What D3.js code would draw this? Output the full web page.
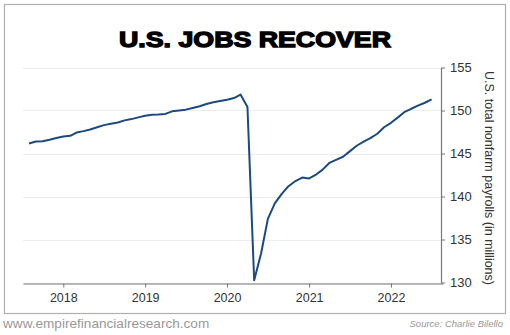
<!DOCTYPE html>
<html><head><meta charset="utf-8">
<script src="https://cdn.jsdelivr.net/npm/d3@7"></script>
<style>body{margin:0;background:#fff}svg{display:block}</style>
</head><body>
<script>
const title = "U.S. JOBS RECOVER";
const yLabel = "U.S. total nonfarm payrolls (in millions)";
const startMonth = "2017-07";
const payrolls = [146.16,146.4,146.43,146.6,146.8,146.98,147.05,147.44,147.6,147.8,148.05,148.3,
148.45,148.6,148.85,149.0,149.2,149.4,149.5,149.53,149.6,149.9,150.0,150.1,
150.3,150.5,150.75,150.95,151.1,151.25,151.45,151.85,150.42,130.27,133.4,137.4,
139.2,140.3,141.2,141.8,142.2,142.1,142.55,143.1,143.9,144.25,144.62,145.25,
145.9,146.38,146.78,147.3,148.05,148.57,149.2,149.8,150.2,150.56,150.9,151.3];
const yTicks = [130,135,140,145,150,155];
const xTicks = ["2018","2019","2020","2021","2022"];
const footerLeft = "www.empirefinancialresearch.com";
const footerRight = "Source: Charlie Bilello";

const W=510,H=335;
const svg=d3.select("body").append("svg").attr("width",W).attr("height",H);
svg.append("rect").attr("x",4.5).attr("y",4.5).attr("width",501).attr("height",309)
  .attr("fill","#fff").attr("stroke","#b0b0b0").attr("stroke-width",1.2);

const parse=d3.timeParse("%Y-%m");
const start=parse(startMonth);
// plotted at end of each month
const data=payrolls.map((v,i)=>({d:d3.timeMonth.offset(start,i+1),v}));

const x=d3.scaleTime().domain([new Date(2018,0,1),new Date(2022,0,1)]).range([63.3,391]);
x.domain([x.invert(23),x.invert(443)]).range([23,443]);
const y=d3.scaleLinear().domain([130,155]).range([282.5,67.5]);

// gridlines
svg.append("g").selectAll("line").data(yTicks).join("line")
  .attr("x1",23).attr("x2",441).attr("y1",d=>Math.round(y(d))+0.5).attr("y2",d=>Math.round(y(d))+0.5)
  .attr("stroke","#ececec").attr("stroke-width",1);

// x axis
const xa=svg.append("g").attr("transform","translate(0,283.5)")
  .call(d3.axisBottom(x).tickValues(xTicks.map(t=>new Date(+t,0,1))).tickFormat(d3.timeFormat("%Y")).tickSize(4).tickSizeOuter(0));
xa.select(".domain").attr("stroke","#777").attr("stroke-width",1.2);
xa.selectAll(".tick line").attr("stroke","#777");
xa.selectAll("text").attr("font-family","Liberation Sans, Arial, sans-serif").attr("font-size",12.5).attr("fill","#333").attr("dy","0.95em");

// y axis
const ya=svg.append("g").attr("transform","translate(441,0)")
  .call(d3.axisRight(y).tickValues(yTicks).tickSize(4).tickSizeOuter(0));
ya.select(".domain").attr("stroke","#777").attr("stroke-width",1.2);
ya.selectAll(".tick line").attr("stroke","#777");
ya.selectAll("text").attr("font-family","Liberation Sans, Arial, sans-serif").attr("font-size",13).attr("fill","#333").attr("x",9);

svg.append("text").attr("transform","translate(485,178) rotate(90)").attr("text-anchor","middle")
  .attr("font-family","Liberation Sans, Arial, sans-serif").attr("font-size",12.5).attr("fill","#333").text(yLabel);

// line
svg.append("path").datum(data)
  .attr("d",d3.line().x(d=>x(d.d)).y(d=>y(d.v)))
  .attr("fill","none").attr("stroke","#1c4a80").attr("stroke-width",2).attr("stroke-linejoin","round");

// title
svg.append("text").attr("x",255).attr("y",46.5).attr("text-anchor","middle")
  .attr("font-family","Liberation Sans, Arial, sans-serif").attr("font-weight","bold").attr("font-size",21.5)
  .attr("stroke","#000").attr("stroke-width",1.3).attr("fill","#000")
  .attr("textLength",272).attr("lengthAdjust","spacingAndGlyphs").text(title);

// footer
svg.append("text").attr("x",3).attr("y",328).attr("font-family","Liberation Sans, Arial, sans-serif")
  .attr("font-size",13.6).attr("fill","#999").text(footerLeft);
svg.append("text").attr("x",503).attr("y",327).attr("text-anchor","end").attr("font-family","Liberation Sans, Arial, sans-serif")
  .attr("font-style","italic").attr("font-size",9.5).attr("fill","#999").text(footerRight);
</script>
</body></html>
